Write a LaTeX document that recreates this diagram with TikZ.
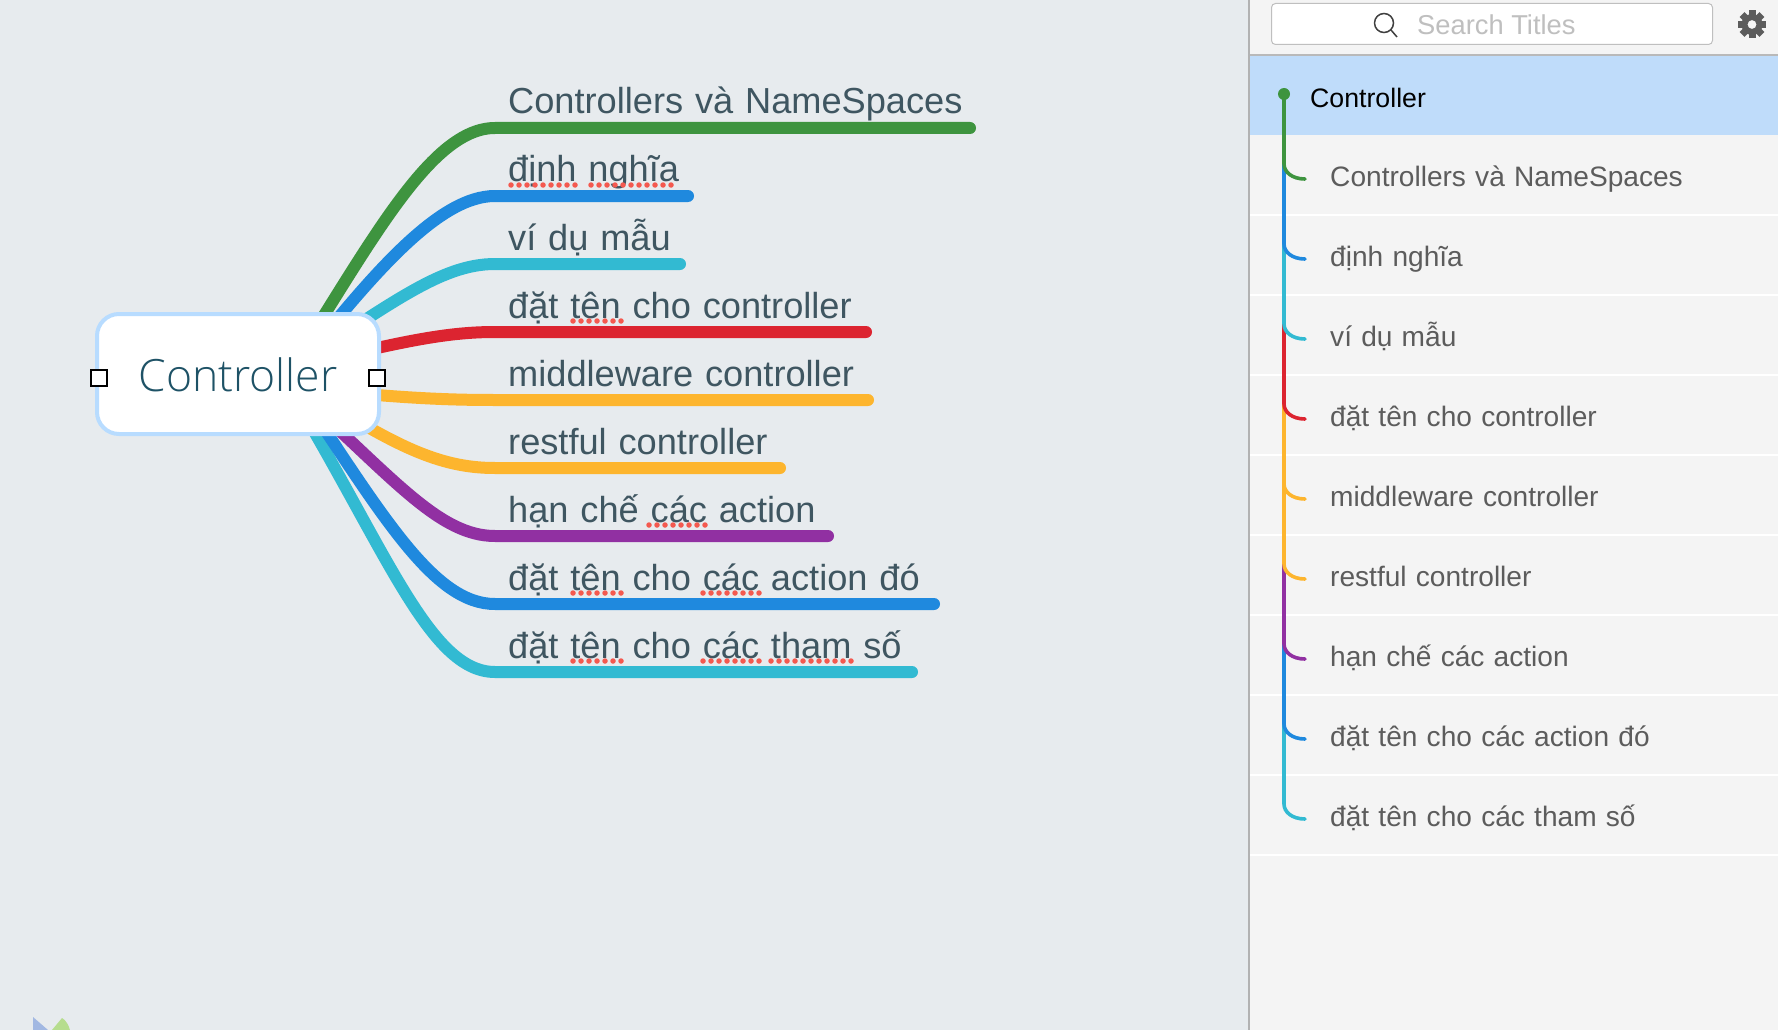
\documentclass[tikz,border=0pt]{standalone}
\usepackage{fontspec}
\setmainfont{Liberation Sans}
\newfontfamily\lightf{Open Sans Light}
\newfontfamily\topicf[WordSpace=1.11]{Liberation Sans}
\newfontfamily\itemf[WordSpace=1.18]{Liberation Sans}
\definecolor{bgc}{HTML}{E7EBEE}
\definecolor{panelc}{HTML}{F4F4F4}
\definecolor{selc}{HTML}{BFDCFA}
\definecolor{boxc}{HTML}{B8DCFF}
\definecolor{gc}{HTML}{3E943F}
\definecolor{bc}{HTML}{1F89DE}
\definecolor{cc}{HTML}{32BAD2}
\definecolor{rc}{HTML}{DC2430}
\definecolor{oc}{HTML}{FDB52E}
\definecolor{pc}{HTML}{9130A2}
\definecolor{txtc}{HTML}{3F5661}
\definecolor{rootc}{HTML}{1E5266}
\definecolor{itemc}{HTML}{5C5C5C}
\definecolor{logob}{HTML}{A2B8E2}
\definecolor{logog}{HTML}{B6DD8E}
\definecolor{dotc}{HTML}{F4594F}
\tikzset{
  branch/.style={line width=12pt,line cap=round},
  topic/.style={anchor=base west,inner sep=0pt,text=txtc,font=\topicf\fontsize{36.2}{40}\selectfont},
  item/.style={anchor=base west,inner sep=0pt,text=itemc,font=\itemf\fontsize{28.1}{32}\selectfont},
  tree/.style={line width=3.6pt,line cap=round},
  sep/.style={white,line width=2pt},
  squiggle/.style={color=dotc,line width=5.5pt,line cap=round,dash pattern=on 0pt off 8pt},
  handle/.style={draw=black,fill=white,line width=2pt,minimum size=16pt,inner sep=0pt}
}
\begin{document}
\begin{tikzpicture}[x=1pt,y=-1pt]
\useasboundingbox (0,0) rectangle (1778,1030);
\fill[bgc] (0,0) rectangle (1778,1030);
% logo
\fill[logob] (33,1017) -- (48,1030) -- (33,1030) -- cycle;
\fill[logog] (62,1018) .. controls (66,1020) and (69,1026) .. (70,1030) -- (52,1030) -- cycle;
% connectors
\coordinate (s1) at (287,374); \coordinate (e1) at (495,128); \coordinate (f1) at (970,128);
\coordinate (s2) at (293,374); \coordinate (e2) at (495,196); \coordinate (f2) at (688,196);
\coordinate (s3) at (282,374); \coordinate (e3) at (495,264); \coordinate (f3) at (680,264);
\coordinate (s4) at (300,366); \coordinate (e4) at (495,332); \coordinate (f4) at (866,332);
\coordinate (s5) at (300,388); \coordinate (e5) at (495,400); \coordinate (f5) at (868,400);
\coordinate (s6) at (300,385); \coordinate (e6) at (495,468); \coordinate (f6) at (780,468);
\coordinate (s7) at (300,394); \coordinate (e7) at (495,536); \coordinate (f7) at (828,536);
\coordinate (s8) at (300,392); \coordinate (e8) at (495,604); \coordinate (f8) at (934,604);
\coordinate (s9) at (280,374); \coordinate (e9) at (495,672); \coordinate (f9) at (912,672);
\draw[branch,cc] (s9) .. controls (385,545) and (428,672) .. (e9) -- (f9);
\draw[branch,bc] (s8) .. controls (385,520) and (435,604) .. (e8) -- (f8);
\draw[branch,pc] (s7) .. controls (395,480) and (440,536) .. (e7) -- (f7);
\draw[branch,oc] (s6) .. controls (395,447) and (440,468) .. (e6) -- (f6);
\draw[branch,oc] (s5) .. controls (400,398) and (445,400) .. (e5) -- (f5);
\draw[branch,rc] (s4) .. controls (400,342) and (445,332) .. (e4) -- (f4);
\draw[branch,cc] (s3) .. controls (390,305) and (440,264) .. (e3) -- (f3);
\draw[branch,bc] (s2) .. controls (375,270) and (440,196) .. (e2) -- (f2);
\draw[branch,gc] (s1) .. controls (370,245) and (430,128) .. (e1) -- (f1);
% root
\node[draw=boxc,fill=white,line width=4pt,rounded corners=22pt,minimum width=282pt,minimum height=120pt,inner sep=0pt] (root) at (238,374) {};
\node[inner sep=0pt,anchor=base,text=rootc,font=\lightf\fontsize{44.5}{54}\selectfont] (roott) at (238,391) {Controller};
\node[handle] (hl) at (99,378) {};
\node[handle] (hr) at (377,378) {};
% topics
\node[topic] (t1) at (508,114) {Controllers và NameSpaces};
\node[topic] (t2) at (508,182) {định nghĩa};
\node[topic] (t3) at (508,250) {ví dụ mẫu};
\node[topic] (t4) at (508,318) {đặt tên cho controller};
\node[topic] (t5) at (508,386) {middleware controller};
\node[topic] (t6) at (508,454) {restful controller};
\node[topic] (t7) at (508,522) {hạn chế các action};
\node[topic] (t8) at (508,590) {đặt tên cho các action đó};
\node[topic] (t9) at (508,658) {đặt tên cho các tham số};
% spell-check marks
\draw[squiggle] (511,185) -- (576,185);
\draw[squiggle] (591,185) -- (672,185);
\draw[squiggle] (573,321) -- (622,321);
\draw[squiggle] (649,525) -- (706,525);
\draw[squiggle] (573,593) -- (622,593);
\draw[squiggle] (703,593) -- (760,593);
\draw[squiggle] (573,661) -- (622,661);
\draw[squiggle] (703,661) -- (760,661);
\draw[squiggle] (771,661) -- (852,661);
% panel
\fill[panelc] (1249,0) rectangle (1778,1030);
\draw[gray!60,line width=2pt] (1249,0) -- (1249,1030);
\draw[gray!55,line width=2pt] (1250,55) -- (1778,55);
\fill[selc] (1250,56) rectangle (1778,135);
\foreach \y in {215,295,375,455,535,615,695,775,855}{\draw[sep] (1250,\y) -- (1778,\y);}
\node[draw=gray!50,fill=white,rounded corners=4pt,line width=1pt,minimum width=441pt,minimum height=41pt,inner sep=0pt] (search) at (1492,24) {};
\draw[black!75,line width=1.5pt] (1384,23) circle (9.5pt);
\draw[black!75,line width=1.5pt] (1391,30) -- (1397,37);
\node[anchor=base west,inner sep=0pt,text=gray!50,font=\fontsize{27.3}{32}\selectfont] (st) at (1417,35) {Search Titles};
% gear
\fill[itemc,even odd rule] (1752,24.5) circle (10.5pt) (1752,24.5) circle (4.5pt);
\foreach \r in {0,45,...,315}{\fill[itemc,rotate around={\r:(1752,24.5)}] (1748.5,10.5) rectangle (1755.5,15.5);}
% tree
\node[anchor=base west,inner sep=0pt,text=black,font=\fontsize{26.7}{32}\selectfont] (i0) at (1310,108) {Controller};
\node[item] (i1) at (1330,186) {Controllers và NameSpaces};
\node[item] (i2) at (1330,266) {định nghĩa};
\node[item] (i3) at (1330,346) {ví dụ mẫu};
\node[item] (i4) at (1330,426) {đặt tên cho controller};
\node[item] (i5) at (1330,506) {middleware controller};
\node[item] (i6) at (1330,586) {restful controller};
\node[item] (i7) at (1330,666) {hạn chế các action};
\node[item] (i8) at (1330,746) {đặt tên cho các action đó};
\node[item] (i9) at (1330,826) {đặt tên cho các tham số};
\coordinate (v0) at (1284,94);
\foreach \c/\a/\b in {cc/723/814,bc/643/734,pc/563/654,oc/483/574,oc/403/494,rc/323/414,cc/243/334,bc/163/254,gc/94/174}{
  \draw[tree,\c] (1284,\a) -- (1284,\b-10) .. controls (1284,\b-2) and (1292,\b+5) .. (1305,\b+5);
}
\fill[gc] (v0) circle (6pt);
\end{tikzpicture}
\end{document}
